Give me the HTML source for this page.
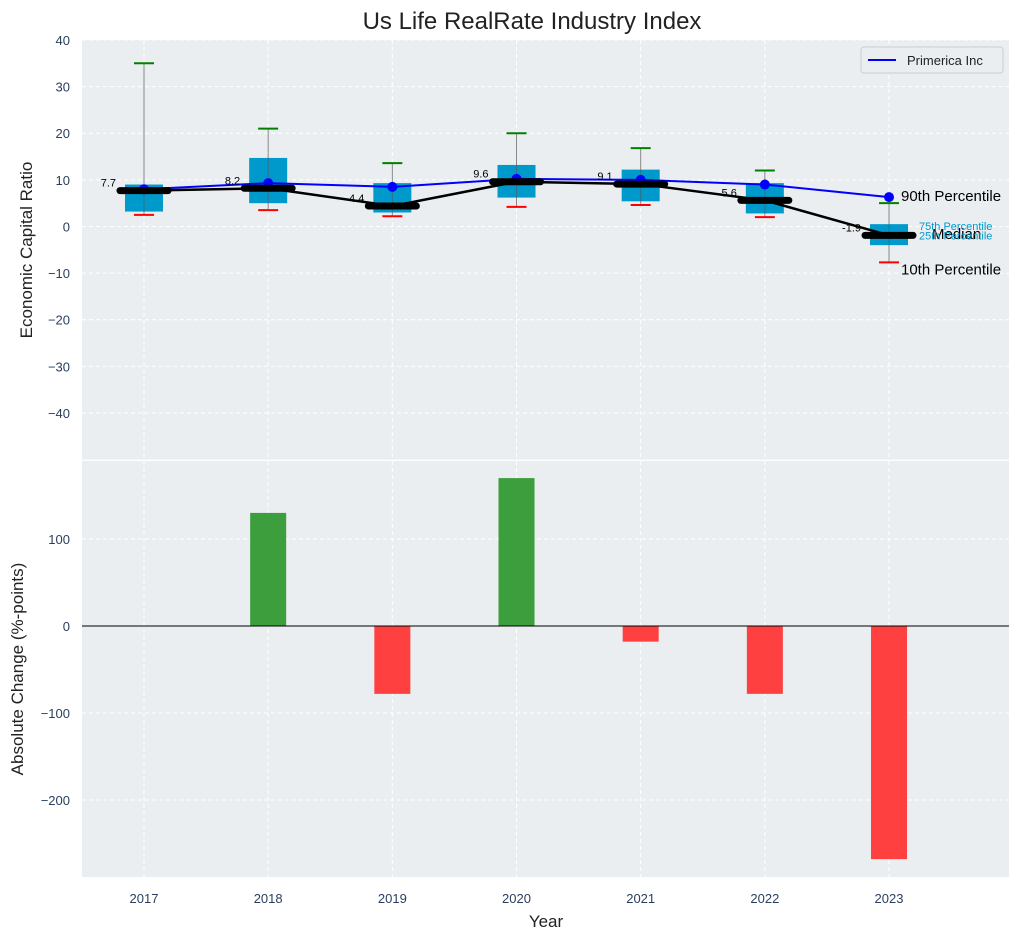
<!DOCTYPE html>
<html><head><meta charset="utf-8"><style>
body{margin:0;background:#fff;font-family:"Liberation Sans",sans-serif}
svg text{font-family:"Liberation Sans",sans-serif}
</style></head><body>
<svg id="c" width="1021" height="940" xmlns="http://www.w3.org/2000/svg"></svg>
<script>
const years=[2017,2018,2019,2020,2021,2022,2023];
const p10=[2.5,3.5,2.2,4.2,4.6,2.0,-7.7];
const p25=[3.2,5.0,3.0,6.2,5.4,2.8,-4.0];
const med=[7.7,8.2,4.4,9.6,9.1,5.6,-1.9];
const p75=[9.0,14.7,9.3,13.2,12.2,9.3,0.5];
const p90=[35,21,13.6,20,16.8,12,5];
const company=[8.0,9.3,8.5,10.2,10.0,9.0,6.3];
const change=[0,130,-78,170,-18,-78,-268];
const topTicks=[40,30,20,10,0,-10,-20,-30,-40];
const botTicks=[100,0,-100,-200];

const NS="http://www.w3.org/2000/svg";
const svg=document.getElementById('c');
function el(t,a,txt){const e=document.createElementNS(NS,t);for(const k in a)e.setAttribute(k,a[k]);if(txt!==undefined)e.textContent=txt;svg.appendChild(e);return e;}
const L=82,R=1009;
const x=v=>144+(v-2017)*124.17;
const T0=40,T1=459.6;const yT=v=>T0+(40-v)/90*(T1-T0);
const B0=461,B1=877;const yB=v=>626-v*0.87;
const TC='#2a3f5f';

let e;
e=el('rect',{x:L,y:T0,width:R-L,height:T1-T0,fill:'#eaeef0'});

e=el('rect',{x:L,y:B0,width:R-L,height:B1-B0,fill:'#eaeef0'});

years.forEach(y=>{
 el('line',{x1:x(y),x2:x(y),y1:T0,y2:T1,stroke:'#fff','stroke-dasharray':'4,3'});
 el('line',{x1:x(y),x2:x(y),y1:B0,y2:B1,stroke:'#fff','stroke-dasharray':'4,3'});
 e=el('text',{x:x(y),y:903,'font-size':13,fill:TC,'text-anchor':'middle'},y);
 
});
topTicks.forEach(t=>{
 el('line',{x1:L,x2:R,y1:yT(t),y2:yT(t),stroke:'#fff','stroke-dasharray':'4,3'});
 e=el('text',{x:70,y:yT(t)+5,'font-size':13,fill:TC,'text-anchor':'end'},t<0?'\u2212'+(-t):t);
 
});
botTicks.forEach(t=>{
 el('line',{x1:L,x2:R,y1:yB(t),y2:yB(t),stroke:'#fff','stroke-dasharray':'4,3'});
 e=el('text',{x:70,y:yB(t)+5,'font-size':13,fill:TC,'text-anchor':'end'},t<0?'\u2212'+(-t):t);
 
});
years.forEach((y,i)=>{
 const cx=x(y);
 e=el('line',{x1:cx,x2:cx,y1:yT(p90[i]),y2:yT(p10[i]),stroke:'#888','stroke-width':1});
 
 e=el('rect',{x:cx-19,y:yT(p75[i]),width:38,height:yT(p25[i])-yT(p75[i]),fill:'#0099cc'});
 
 el('line',{x1:cx,x2:cx,y1:yT(p75[i]),y2:yT(p25[i]),stroke:'#555','stroke-width':1,opacity:0.6});
 e=el('line',{x1:cx-10,x2:cx+10,y1:yT(p90[i]),y2:yT(p90[i]),stroke:'green','stroke-width':2});
 
 e=el('line',{x1:cx-10,x2:cx+10,y1:yT(p10[i]),y2:yT(p10[i]),stroke:'red','stroke-width':2});
 
});
e=el('polyline',{points:years.map((y,i)=>x(y)+','+yT(company[i])).join(' '),fill:'none',stroke:'blue','stroke-width':2});

years.forEach((y,i)=>{e=el('circle',{cx:x(y),cy:yT(company[i]),r:5,fill:'blue'});
 });
e=el('polyline',{points:years.map((y,i)=>x(y)+','+yT(med[i])).join(' '),fill:'none',stroke:'#000','stroke-width':2.5});

years.forEach((y,i)=>{
 const cx=x(y);
 e=el('line',{x1:cx-24,x2:cx+24,y1:yT(med[i]),y2:yT(med[i]),stroke:'#000','stroke-width':7,'stroke-linecap':'round'});
 
 e=el('text',{x:cx-28,y:yT(med[i])-4,'font-size':11,fill:'#000','text-anchor':'end'},med[i]);
 
});
[['90th Percentile',p90[6]+1.5,15,'#000',901],['10th Percentile',p10[6]-1.5,15,'#000',901],['Median',med[6]+0.3,15,'#000',932],['75th Percentile',p75[6]-0.2,11,'#0099cc',919],['25th Percentile',p25[6]+2.3,11,'#0099cc',919]].forEach(a=>{
 e=el('text',{x:a[4],y:yT(a[1])+5,'font-size':a[2],fill:a[3]},a[0]);
 
});
e=el('rect',{x:861,y:47,width:142,height:26,fill:'#eaeef0',stroke:'#ccc',rx:3});

el('line',{x1:868,x2:896,y1:60,y2:60,stroke:'blue','stroke-width':2});
e=el('text',{x:907,y:65,'font-size':13,fill:'#222'},'Primerica Inc');

years.forEach((y,i)=>{
 const v=change[i];if(v===0)return;
 e=el('rect',{x:x(y)-18,y:Math.min(yB(v),yB(0)),width:36,height:Math.abs(yB(v)-yB(0)),fill:v>0?'#3c9e3c':'#ff4040'});
 
});
el('line',{x1:L,x2:R,y1:yB(0),y2:yB(0),stroke:'#000','stroke-width':1});
e=el('text',{x:532,y:29,'font-size':24,fill:'#222','text-anchor':'middle'},'Us Life RealRate Industry Index');

e=el('text',{x:0,y:0,'font-size':17,fill:'#222','text-anchor':'middle',transform:'translate(32,250) rotate(-90)'},'Economic Capital Ratio');

e=el('text',{x:0,y:0,'font-size':17,fill:'#222','text-anchor':'middle',transform:'translate(23,669) rotate(-90)'},'Absolute Change (%-points)');

e=el('text',{x:546,y:927,'font-size':17,fill:'#222','text-anchor':'middle'},'Year');

</script>
</body></html>
